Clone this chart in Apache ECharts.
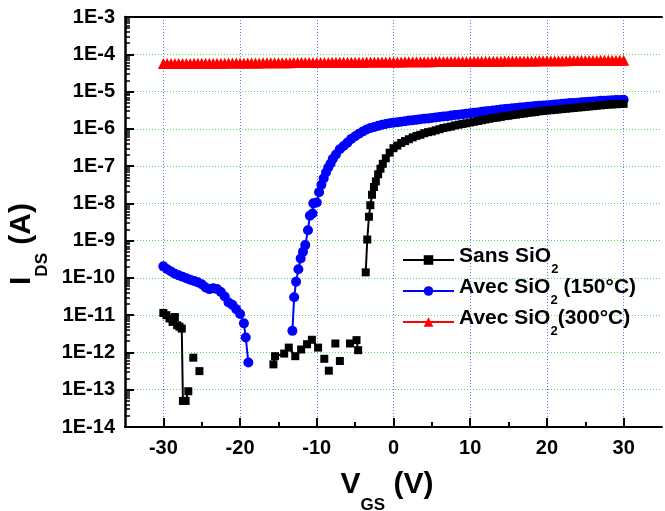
<!DOCTYPE html>
<html>
<head>
<meta charset="utf-8">
<script src="https://cdn.jsdelivr.net/npm/echarts@6/dist/echarts.min.js"></script>
<style>
html,body{margin:0;padding:0;background:#fff;}
#chart{width:665px;height:511px;}
</style>
</head>
<body>
<div id="chart"></div>
<script>
// ---------- axis ticks ----------
const xTicks = [-30, -20, -10, 0, 10, 20, 30];
const xMinorTicks = [-25, -15, -5, 5, 15, 25];
const yTicks = [1e-14, 1e-13, 1e-12, 1e-11, 1e-10, 1e-9, 1e-8, 1e-7, 1e-6, 1e-5, 1e-4, 1e-3];
const yTickLabels = ['1E-14', '1E-13', '1E-12', '1E-11', '1E-10', '1E-9', '1E-8', '1E-7', '1E-6', '1E-5', '1E-4', '1E-3'];
const seriesNames = ['Sans SiO2', 'Avec SiO2 (150°C)', 'Avec SiO2 (300°C)'];

// ---------- Sans SiO2 (null = break in the curve) ----------
const sansV = [
  -30.0, -29.6, -29.2, -28.8, -28.5, -28.2, -27.9, -27.6, -27.45, -27.1, -26.75, null,
  -26.1, null, -25.3, null,
  -15.65, -15.44, -14.25, -13.65, -12.8, -12.04, -11.27, -10.64, -9.83, null,
  -9.02, null, -8.43, null, -7.58, null, -6.99, null, -5.67, null, -4.82, -4.61, null,
  -3.62, -3.42, -3.2, -3.02, -2.8, -2.55, -2.3, -2.0, -1.7, -1.4, -1.0, -0.5,
  0, 0.5, 1, 1.5, 2, 2.5, 3, 3.5, 4, 4.5, 5, 5.5, 6, 6.5, 7, 7.5, 8, 8.5, 9, 9.5,
  10, 10.5, 11, 11.5, 12, 12.5, 13, 13.5, 14, 14.5, 15, 15.5, 16, 16.5, 17, 17.5, 18, 18.5, 19, 19.5,
  20, 20.5, 21, 21.5, 22, 22.5, 23, 23.5, 24, 24.5, 25, 25.5, 26, 26.5, 27, 27.5, 28, 28.5, 29, 29.5, 30
];
const sansI = [
  1.15e-11, 1.0e-11, 8.13e-12, 6.61e-12, 8.91e-12, 5.37e-12, 4.90e-12, 4.37e-12, 5.01e-14, 5.01e-14, 9.12e-14, null,
  7.24e-13, null, 3.16e-13, null,
  4.79e-13, 7.94e-13, 9.33e-13, 1.35e-12, 7.94e-13, 1.20e-12, 1.66e-12, 2.19e-12, 1.35e-12, null,
  6.76e-13, null, 3.24e-13, null, 1.74e-12, null, 5.89e-13, null, 1.74e-12, null, 2.14e-12, 1.15e-12, null,
  1.41e-10, 1.07e-9, 4.37e-9, 8.91e-9, 1.70e-8, 2.75e-8, 3.89e-8, 6.03e-8, 8.51e-8, 1.15e-7, 1.62e-7, 2.29e-7,
  3.02e-7, 3.55e-7, 4.17e-7, 4.68e-7, 5.25e-7, 5.89e-7, 6.46e-7, 6.92e-7, 7.59e-7, 8.13e-7,
  8.51e-7, 9.12e-7, 9.77e-7, 1.05e-6, 1.10e-6, 1.15e-6, 1.23e-6, 1.29e-6, 1.35e-6, 1.41e-6,
  1.48e-6, 1.55e-6, 1.62e-6, 1.70e-6, 1.78e-6, 1.86e-6, 1.95e-6, 2.00e-6, 2.09e-6, 2.19e-6,
  2.24e-6, 2.34e-6, 2.40e-6, 2.51e-6, 2.57e-6, 2.69e-6, 2.75e-6, 2.82e-6, 2.95e-6, 3.02e-6,
  3.09e-6, 3.16e-6, 3.24e-6, 3.31e-6, 3.39e-6, 3.47e-6, 3.55e-6, 3.63e-6, 3.72e-6, 3.80e-6,
  3.89e-6, 3.98e-6, 4.07e-6, 4.17e-6, 4.27e-6, 4.37e-6, 4.47e-6, 4.52e-6, 4.57e-6, 4.62e-6, 4.68e-6
];

// ---------- Avec SiO2 (150°C) ----------
const avec150V = [
  -30, -29.5, -29, -28.5, -28, -27.5, -27, -26.5, -26, -25.5, -25, -24.5, -24, -23.5, -23, -22.5, -22, -21.5, -21, -20.5, -20, -19.5,
  -19.26, -18.92, null,
  -13.18, -12.95, -12.7, -12.4, -12.1, -11.8, -11.5, -11.15, -10.9, -10.55, -10.45, -10.0, -9.7, -9.4, -9.1, -8.8, -8.5, -8.2, -7.9,
  -7.5, -7.0, -6.5, -6.0, -5.5, -5.0, -4.5, -4.0, -3.5, -3.0, -2.5, -2.0, -1.5, -1.0, -0.5,
  0, 0.5, 1, 1.5, 2, 2.5, 3, 3.5, 4, 4.5, 5, 5.5, 6, 6.5, 7, 7.5, 8, 8.5, 9, 9.5,
  10, 10.5, 11, 11.5, 12, 12.5, 13, 13.5, 14, 14.5, 15, 15.5, 16, 16.5, 17, 17.5, 18, 18.5, 19, 19.5,
  20, 20.5, 21, 21.5, 22, 22.5, 23, 23.5, 24, 24.5, 25, 25.5, 26, 26.5, 27, 27.5, 28, 28.5, 29, 29.5, 30
];
const avec150I = [
  2.04e-10, 1.70e-10, 1.48e-10, 1.29e-10, 1.17e-10, 1.07e-10, 9.77e-11, 8.91e-11, 8.32e-11, 7.59e-11, 6.76e-11,
  5.50e-11, 5.01e-11, 5.25e-11, 5.01e-11, 4.17e-11, 3.16e-11, 2.19e-11, 1.91e-11, 1.45e-11, 1.07e-11, 6.03e-12,
  2.51e-12, 5.37e-13, null,
  3.80e-12, 3.02e-11, 7.94e-11, 1.70e-10, 3.31e-10, 5.01e-10, 7.59e-10, 1.91e-9, 4.68e-9, 5.37e-9, 1.0e-8, 1.05e-8,
  2.0e-8, 3.16e-8, 4.68e-8, 6.76e-8, 9.12e-8, 1.17e-7, 1.58e-7,
  2.04e-7, 2.82e-7, 3.47e-7, 4.27e-7, 5.37e-7, 6.31e-7, 7.41e-7, 8.51e-7, 9.55e-7, 1.05e-6, 1.12e-6, 1.20e-6, 1.29e-6, 1.35e-6, 1.41e-6,
  1.45e-6, 1.50e-6, 1.55e-6, 1.60e-6, 1.66e-6, 1.70e-6, 1.74e-6, 1.80e-6, 1.86e-6, 1.90e-6,
  1.95e-6, 2.02e-6, 2.09e-6, 2.14e-6, 2.19e-6, 2.26e-6, 2.34e-6, 2.40e-6, 2.45e-6, 2.54e-6,
  2.63e-6, 2.69e-6, 2.75e-6, 2.85e-6, 2.95e-6, 3.02e-6, 3.09e-6, 3.20e-6, 3.31e-6, 3.39e-6,
  3.47e-6, 3.55e-6, 3.63e-6, 3.72e-6, 3.80e-6, 3.89e-6, 3.98e-6, 4.07e-6, 4.17e-6, 4.22e-6,
  4.27e-6, 4.37e-6, 4.47e-6, 4.57e-6, 4.68e-6, 4.79e-6, 4.90e-6, 4.95e-6, 5.01e-6, 5.13e-6,
  5.25e-6, 5.31e-6, 5.37e-6, 5.50e-6, 5.62e-6, 5.68e-6, 5.75e-6, 5.82e-6, 5.89e-6, 5.96e-6, 6.03e-6
];

// ---------- Avec SiO2 (300°C) ----------
const avec300V = [
  -30, -29.5, -29, -28.5, -28, -27.5, -27, -26.5, -26, -25.5, -25, -24.5, -24, -23.5, -23, -22.5, -22, -21.5, -21, -20.5,
  -20, -19.5, -19, -18.5, -18, -17.5, -17, -16.5, -16, -15.5, -15, -14.5, -14, -13.5, -13, -12.5, -12, -11.5, -11, -10.5,
  -10, -9.5, -9, -8.5, -8, -7.5, -7, -6.5, -6, -5.5, -5, -4.5, -4, -3.5, -3, -2.5, -2, -1.5, -1, -0.5,
  0, 0.5, 1, 1.5, 2, 2.5, 3, 3.5, 4, 4.5, 5, 5.5, 6, 6.5, 7, 7.5, 8, 8.5, 9, 9.5,
  10, 10.5, 11, 11.5, 12, 12.5, 13, 13.5, 14, 14.5, 15, 15.5, 16, 16.5, 17, 17.5, 18, 18.5, 19, 19.5,
  20, 20.5, 21, 21.5, 22, 22.5, 23, 23.5, 24, 24.5, 25, 25.5, 26, 26.5, 27, 27.5, 28, 28.5, 29, 29.5, 30
];
const avec300I = [
  5.62e-5, 5.63e-5, 5.65e-5, 5.65e-5, 5.66e-5, 5.68e-5, 5.68e-5, 5.69e-5, 5.71e-5, 5.71e-5,
  5.72e-5, 5.73e-5, 5.75e-5, 5.75e-5, 5.76e-5, 5.78e-5, 5.78e-5, 5.79e-5, 5.81e-5, 5.81e-5,
  5.82e-5, 5.84e-5, 5.84e-5, 5.85e-5, 5.87e-5, 5.87e-5, 5.89e-5, 5.90e-5, 5.91e-5, 5.92e-5,
  5.93e-5, 5.94e-5, 5.96e-5, 5.96e-5, 5.97e-5, 5.99e-5, 5.99e-5, 6.00e-5, 6.02e-5, 6.02e-5,
  6.03e-5, 6.05e-5, 6.05e-5, 6.06e-5, 6.08e-5, 6.08e-5, 6.09e-5, 6.11e-5, 6.11e-5, 6.12e-5,
  6.13e-5, 6.15e-5, 6.15e-5, 6.16e-5, 6.18e-5, 6.18e-5, 6.19e-5, 6.21e-5, 6.21e-5, 6.22e-5,
  6.23e-5, 6.25e-5, 6.25e-5, 6.26e-5, 6.28e-5, 6.28e-5, 6.29e-5, 6.31e-5, 6.31e-5, 6.32e-5,
  6.33e-5, 6.35e-5, 6.35e-5, 6.36e-5, 6.38e-5, 6.38e-5, 6.39e-5, 6.41e-5, 6.41e-5, 6.42e-5,
  6.43e-5, 6.45e-5, 6.46e-5, 6.47e-5, 6.48e-5, 6.50e-5, 6.51e-5, 6.52e-5, 6.53e-5, 6.55e-5,
  6.56e-5, 6.57e-5, 6.58e-5, 6.60e-5, 6.61e-5, 6.62e-5, 6.63e-5, 6.65e-5, 6.66e-5, 6.67e-5,
  6.68e-5, 6.70e-5, 6.71e-5, 6.72e-5, 6.73e-5, 6.75e-5, 6.76e-5, 6.77e-5, 6.78e-5, 6.80e-5,
  6.81e-5, 6.82e-5, 6.83e-5, 6.85e-5, 6.86e-5, 6.87e-5, 6.88e-5, 6.89e-5, 6.90e-5, 6.91e-5, 6.92e-5
];

// ---------- build ----------
function pairs(xs, ys) {
  return xs.map((x, i) => (ys[i] == null || x == null) ? ['-', '-'] : [x, ys[i]]);
}
const yMinorTicks = [];
yTicks.slice(0, -1).forEach(t => { for (let m = 2; m <= 9; m++) yMinorTicks.push(m * t); });

const FONT = 'Liberation Sans, Arial, sans-serif';
const legendRich = {
  t: { fontFamily: FONT, fontWeight: 'bold', fontSize: 21, lineHeight: 28, verticalAlign: 'top', color: '#000' },
  s: { fontFamily: FONT, fontWeight: 'bold', fontSize: 13, lineHeight: 13, padding: [17, 0, 0, 0], verticalAlign: 'top', color: '#000' }
};
const legendText = {};
legendText[seriesNames[0]] = '{t|Sans SiO}{s|2}';
legendText[seriesNames[1]] = '{t|Avec SiO}{s|2}{t| (150°C)}';
legendText[seriesNames[2]] = '{t|Avec SiO}{s|2}{t|(300°C)}';

const nameRich = {
  m: { fontFamily: FONT, fontWeight: 'bold', fontSize: 30, lineHeight: 34, verticalAlign: 'top', color: '#000' },
  s: { fontFamily: FONT, fontWeight: 'bold', fontSize: 17, lineHeight: 17, padding: [27, 0, 0, 0], verticalAlign: 'top', color: '#000' }
};
const GRID_H = '#55dd55';
const GRID_V = '#6a6aff';

const chart = echarts.init(document.getElementById('chart'), null, { renderer: 'canvas' });
chart.setOption({
  animation: false,
  backgroundColor: '#fff',
  grid: { left: 125, right: 3, top: 17, bottom: 84, containLabel: false, outerBoundsMode: 'none' },
  legend: {
    orient: 'vertical',
    left: 402,
    top: 246,
    padding: 0,
    itemGap: 1,
    itemWidth: 51,
    itemHeight: 12,
    data: seriesNames,
    formatter: name => legendText[name],
    textStyle: { rich: legendRich }
  },
  xAxis: [
    {
      type: 'value', min: -35, max: 35, position: 'bottom',
      name: '{m|V}{s|GS}{m| (V)}',
      nameLocation: 'middle', nameGap: 43,
      nameTextStyle: { rich: nameRich, padding: [0, 13, 0, 0] },
      axisLine: { onZero: false, lineStyle: { color: '#000', width: 2 } },
      axisTick: { inside: true, length: 9, customValues: xTicks, lineStyle: { color: '#000', width: 2 } },
      axisLabel: { customValues: xTicks, color: '#000', fontFamily: FONT, fontWeight: 'bold', fontSize: 20, margin: 11 },
      splitLine: { show: true, lineStyle: { type: [1, 2], color: GRID_V, width: 1 } }
    },
    {
      type: 'value', min: -35, max: 35, position: 'bottom', offset: 0,
      axisLine: { show: false, onZero: false },
      axisTick: { inside: true, length: 5, customValues: xMinorTicks, lineStyle: { color: '#000', width: 2 } },
      axisLabel: { show: false },
      splitLine: { show: false }
    },
    {
      type: 'value', min: -35, max: 35, position: 'top', offset: 0,
      axisLine: { show: true, onZero: false, lineStyle: { color: '#000', width: 2 } },
      axisTick: { show: false },
      axisLabel: { show: false },
      splitLine: { show: false }
    }
  ],
  yAxis: [
    {
      type: 'log', logBase: 10, min: 1e-14, max: 1e-3, position: 'left',
      name: '{m|I}{s|DS}{m| (A)}',
      nameLocation: 'middle', nameRotate: 90, nameGap: 69,
      nameTextStyle: { rich: nameRich, padding: [0, 44, 0, 0] },
      axisLine: { show: true, onZero: false, lineStyle: { color: '#000', width: 2.5 } },
      axisTick: { show: true, inside: true, length: 9, customValues: yTicks, lineStyle: { color: '#000', width: 2 } },
      axisLabel: {
        customValues: yTicks, color: '#000', fontFamily: FONT, fontWeight: 'bold', fontSize: 20, margin: 10,
        formatter: v => {
          const i = yTicks.findIndex(t => Math.abs(Math.log10(t) - Math.log10(v)) < 1e-6);
          return i >= 0 ? yTickLabels[i] : '';
        }
      },
      splitLine: { show: true, lineStyle: { type: [1, 2], color: GRID_H, width: 1 } }
    },
    {
      type: 'log', logBase: 10, min: 1e-14, max: 1e-3, position: 'left', offset: 0,
      axisLine: { show: false, onZero: false },
      axisTick: { show: true, inside: true, length: 5, customValues: yMinorTicks, lineStyle: { color: '#000', width: 1.5 } },
      axisLabel: { show: false },
      splitLine: { show: false }
    }
  ],
  series: [
    {
      name: seriesNames[0], type: 'line', z: 5,
      data: pairs(sansV, sansI), connectNulls: false,
      symbol: 'rect', symbolSize: 8,
      lineStyle: { color: '#000', width: 2 }, itemStyle: { color: '#000' }
    },
    {
      name: seriesNames[1], type: 'line', z: 4,
      data: pairs(avec150V, avec150I), connectNulls: false,
      symbol: 'circle', symbolSize: 10,
      lineStyle: { color: '#0000ff', width: 2 }, itemStyle: { color: '#0000ff' }
    },
    {
      name: seriesNames[2], type: 'line', z: 3,
      data: pairs(avec300V, avec300I),
      symbol: 'triangle', symbolSize: 11,
      lineStyle: { color: '#ff0000', width: 2 }, itemStyle: { color: '#ff0000' }
    }
  ]
});
</script>
</body>
</html>
